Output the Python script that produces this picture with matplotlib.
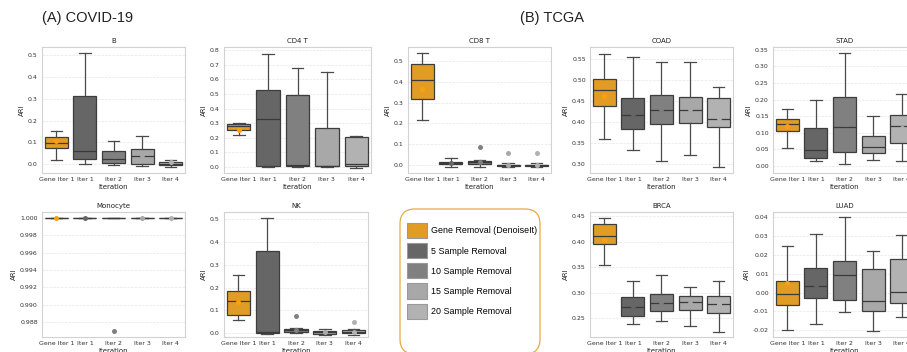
#!/usr/bin/env python3
import matplotlib
matplotlib.use("Agg")
import matplotlib.pyplot as plt
from matplotlib.patches import Patch, FancyBboxPatch
import numpy as np

plt.rcParams['axes.unicode_minus'] = False

# categories on every panel
iters = ['Gene Iter 1', 'Iter 1', 'Iter 2', 'Iter 3', 'Iter 4']
legend_labels = ['Gene Removal (DenoiseIt)', '5 Sample Removal', '10 Sample Removal',
                 '15 Sample Removal', '20 Sample Removal']

# box stats per category: whislo, q1, median, q3, whishi
B_box = [[0.020, 0.075, 0.099, 0.123, 0.154],
         [0.000, 0.024, 0.058, 0.312, 0.511],
         [-0.006, 0.005, 0.023, 0.062, 0.108],
         [-0.009, 0.000, 0.037, 0.067, 0.131],
         [-0.012, -0.006, 0.002, 0.009, 0.018]]
B_mean = [0.104, 0.14, 0.035, 0.04, 0.009]
B_fliers = [[], [], [], [], []]

CD4_box = [[0.220, 0.256, 0.283, 0.297, 0.299],
           [0.000, 0.007, 0.329, 0.524, 0.771],
           [0.000, 0.005, 0.014, 0.490, 0.678],
           [0.000, 0.005, 0.011, 0.268, 0.649],
           [-0.005, 0.009, 0.023, 0.209, 0.213]]
CD4_mean = [0.256, 0.30, 0.25, 0.15, 0.09]
CD4_fliers = [[], [], [], [], []]

CD8_box = [[0.219, 0.320, 0.410, 0.487, 0.540],
           [-0.008, 0.003, 0.008, 0.014, 0.031],
           [-0.010, 0.005, 0.0145, 0.021, 0.024],
           [-0.010, -0.005, 0.000, 0.002, 0.008],
           [-0.010, -0.005, 0.000, 0.002, 0.008]]
CD8_mean = [0.367, 0.009, 0.016, 0.002, 0.002]
CD8_fliers = [[], [], [0.085], [0.058], [0.058]]

COAD_box = [[0.360, 0.437, 0.477, 0.502, 0.562],
            [0.332, 0.382, 0.417, 0.458, 0.556],
            [0.307, 0.394, 0.429, 0.465, 0.544],
            [0.321, 0.398, 0.428, 0.459, 0.544],
            [0.292, 0.388, 0.408, 0.456, 0.484]]
COAD_mean = [0.461, 0.42, 0.43, 0.43, 0.41]
COAD_fliers = [[], [], [], [], []]

STAD_box = [[0.055, 0.104, 0.126, 0.140, 0.171],
            [0.014, 0.025, 0.049, 0.115, 0.198],
            [0.006, 0.041, 0.117, 0.207, 0.339],
            [0.0175, 0.038, 0.058, 0.090, 0.151],
            [0.016, 0.070, 0.121, 0.152, 0.217]]
STAD_mean = [0.120, 0.07, 0.125, 0.068, 0.115]
STAD_fliers = [[], [], [], [], []]

Mono_box = [[1.0, 1.0, 1.0, 1.0, 1.0],
            [1.0, 1.0, 1.0, 1.0, 1.0],
            [1.0, 1.0, 1.0, 1.0, 1.0],
            [1.0, 1.0, 1.0, 1.0, 1.0],
            [1.0, 1.0, 1.0, 1.0, 1.0]]
Mono_mean = [1.0, 1.0, np.nan, 1.0, 1.0]
Mono_fliers = [[], [], [0.98694], [], []]

NK_box = [[0.057, 0.077, 0.139, 0.184, 0.257],
          [-0.006, 0.000, 0.006, 0.360, 0.508],
          [-0.0015, 0.0045, 0.012, 0.017, 0.021],
          [-0.0075, -0.003, 0.0045, 0.0105, 0.018],
          [-0.0105, -0.0015, 0.006, 0.012, 0.0165]]
NK_mean = [0.136, 0.15, 0.012, 0.004, 0.006]
NK_fliers = [[], [], [0.0725], [], [0.047]]

BRCA_box = [[0.355, 0.3946, 0.4116, 0.434, 0.4467],
            [0.2396, 0.255, 0.2728, 0.291, 0.3236],
            [0.2455, 0.265, 0.2806, 0.2976, 0.334],
            [0.2357, 0.2656, 0.2826, 0.293, 0.3113],
            [0.2234, 0.2612, 0.2788, 0.2944, 0.323]]
BRCA_mean = [0.404, 0.274, 0.282, 0.28, 0.278]
BRCA_fliers = [[], [], [], [], []]

LUAD_box = [[-0.0196, -0.0068, -0.0005, 0.006, 0.0246],
            [-0.0167, -0.003, 0.0037, 0.0131, 0.031],
            [-0.0105, -0.004, 0.0091, 0.0165, 0.0398],
            [-0.0205, -0.0096, -0.0047, 0.0125, 0.0221],
            [-0.013, -0.0056, 0.0002, 0.0177, 0.0303]]
LUAD_mean = [0.0053, 0.004, 0.007, 0.001, 0.004]
LUAD_fliers = [[], [], [], [], []]

box_colors = ['#E09C24', '#666666', '#808080', '#A8A8A8', '#B2B2B2']
mean_colors = ['#FFA00A', '#666666', '#808080', '#A8A8A8', '#B2B2B2']

W, H = 907, 352
fig = plt.figure(figsize=(W / 100, H / 100), dpi=100)


def px_axes(left, top, right, bottom):
    return fig.add_axes([left / W, 1 - bottom / H, (right - left) / W, (bottom - top) / H])


# title, stats, means, fliers, ylim, pixel box (left, top, right, bottom)
panels = [
    ('B', B_box, B_mean, B_fliers, (-0.041, 0.538), (42, 47, 185, 173)),
    ('CD4 T', CD4_box, CD4_mean, CD4_fliers, (-0.04, 0.82), (224, 47, 371, 173)),
    ('CD8 T', CD8_box, CD8_mean, CD8_fliers, (-0.039, 0.569), (408, 47, 551, 173)),
    ('COAD', COAD_box, COAD_mean, COAD_fliers, (0.278, 0.579), (590, 47, 733, 173)),
    ('STAD', STAD_box, STAD_mean, STAD_fliers, (-0.021, 0.358), (773, 47, 916, 173)),
    ('Monocyte', Mono_box, Mono_mean, Mono_fliers, (0.98629, 1.00068), (42, 212, 185, 337)),
    ('NK', NK_box, NK_mean, NK_fliers, (-0.018, 0.533), (224, 212, 368, 337)),
    ('BRCA', BRCA_box, BRCA_mean, BRCA_fliers, (0.2135, 0.4578), (590, 212, 733, 337)),
    ('LUAD', LUAD_box, LUAD_mean, LUAD_fliers, (-0.0235, 0.0426), (773, 212, 916, 337)),
]

for title, box, means, fliers, ylim, pos in panels:
    ax = px_axes(*pos)
    for i, (st, mu, fl) in enumerate(zip(box, means, fliers)):
        stats = dict(whislo=st[0], q1=st[1], med=st[2], q3=st[3], whishi=st[4],
                     mean=mu, fliers=fl)
        ax.bxp([stats], positions=[i], widths=0.8, patch_artist=True,
               showmeans=True,
               boxprops=dict(facecolor=box_colors[i], edgecolor='#3d3d3d', linewidth=0.9),
               whiskerprops=dict(color='#4a4a4a', linewidth=0.9),
               capprops=dict(color='#4a4a4a', linewidth=0.9),
               medianprops=dict(color='#3a3a3a', linewidth=0.9),
               meanprops=dict(marker='o', markerfacecolor=mean_colors[i],
                              markeredgecolor='none', markersize=3.6),
               flierprops=dict(marker='o', markerfacecolor=box_colors[i],
                               markeredgecolor='none', markersize=3.6))
    ax.set_xlim(-0.5, 4.5)
    ax.set_ylim(*ylim)
    ax.set_xticks(range(len(iters)))
    ax.set_xticklabels(iters)
    ax.set_title(title, fontsize=5, pad=3, color='#222222')
    ax.set_xlabel('Iteration', fontsize=5, labelpad=1.5, color='#222222')
    ax.set_ylabel('ARI', fontsize=5, labelpad=2, color='#222222')
    ax.tick_params(length=0, labelsize=4.5, pad=3, colors='#333333')
    ax.yaxis.grid(True, linestyle='--', color='#e6e6e6', linewidth=0.5)
    ax.set_axisbelow(True)
    for s in ax.spines.values():
        s.set_color('#d2d2d2')
        s.set_linewidth(0.8)

# section titles
fig.text(42 / W, 1 - 18 / H, '(A) COVID-19', fontsize=10.5, family='Liberation Sans',
         va='center', ha='left', color='#222222')
fig.text(520 / W, 1 - 18 / H, '(B) TCGA', fontsize=10.5, family='Liberation Sans',
         va='center', ha='left', color='#222222')

# legend with rounded orange frame
frame = FancyBboxPatch((4.00, -0.02), 1.40, 1.45,
                       boxstyle='round,pad=0,rounding_size=0.15',
                       transform=fig.dpi_scale_trans, facecolor='white',
                       edgecolor='#E8AA45', linewidth=0.9)
fig.patches.append(frame)
handles = [Patch(facecolor=c, edgecolor='#999999', linewidth=0.8) for c in box_colors]
fig.legend(handles, legend_labels, loc='upper left',
           bbox_to_anchor=(407 / W, 1 - 223 / H), frameon=False,
           prop={'family': 'Liberation Sans', 'size': 6.4},
           handlelength=2.25, handleheight=2.25, labelspacing=0.56,
           handletextpad=0.45, borderpad=0, borderaxespad=0)

fig.savefig('out.png', dpi=100)
